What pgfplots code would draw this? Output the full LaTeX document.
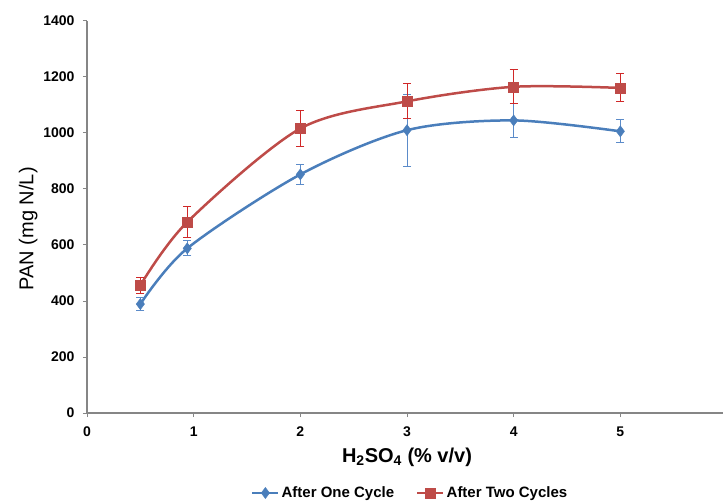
\documentclass[border=0pt]{standalone}
\usepackage{pgfplots}
\usepackage{pgfplotstable}
\pgfplotsset{compat=1.18}
\usepackage{fontspec}
\setmainfont{Liberation Sans}
\definecolor{serA}{HTML}{4A7EBB}
\definecolor{serB}{HTML}{BE4B48}
\definecolor{errA}{HTML}{5B8BC9}
\definecolor{errB}{HTML}{D02828}
\definecolor{axgray}{HTML}{868686}

\pgfplotstableread{
x y e
0.5 389 22
0.94 588 27
2 852 35
3 1010 128
4 1045 62
5 1006 41
}\one
\pgfplotstableread{
x y e
0.5 456 28
0.94 682 57
2 1016 65
3 1113 63
4 1165 61
5 1161 50
}\two

\begin{document}
\begin{tikzpicture}
\clip (-87bp,-89bp) rectangle (636bp,413bp);
\begin{axis}[
  at={(0,0)}, anchor=south west,
  scale only axis, width=640bp, height=392bp,
  xmin=0, xmax=6, ymin=0, ymax=1400,
  axis x line*=bottom, axis y line*=left,
  axis line style={-, draw=axgray, line width=1.5bp},
  xtick={0,1,2,3,4,5,6}, ytick={0,200,400,600,800,1000,1200,1400},
  tick align=outside, major tick length=4bp,
  tick style={axgray, line width=1bp},
  tick label style={font=\fontsize{14bp}{16bp}\selectfont\bfseries},
  xticklabel style={yshift=-6bp},
  yticklabel style={xshift=-5bp},
  /pgf/number format/assume math mode=true,
  /pgf/number format/1000 sep={},
  xlabel={\bfseries H\textsubscript{2}SO\textsubscript{4} (\% v/v)},
  xlabel style={font=\fontsize{20bp}{24bp}\selectfont, at={(axis description cs:0.5,-0.112)}, anchor=center},
  ylabel={PAN (mg N/L)},
  ylabel style={font=\fontsize{20bp}{24bp}\selectfont, at={(axis description cs:-0.092,0.47)}, anchor=center},
  legend columns=2,
  legend style={at={(axis description cs:0.505,-0.204)}, anchor=center, draw=none, fill=none,
    font=\fontsize{15bp}{17bp}\selectfont\bfseries,
    /tikz/every even column/.append style={column sep=20bp}},
  legend image code/.code={\draw[#1, mark repeat=2, mark phase=2] plot coordinates {(0bp,0bp) (13bp,0bp) (26bp,0bp)};},
]
\addplot[serA, line width=2.5bp, smooth, tension=0.5,
  mark=diamond*, mark size=5.5bp, mark options={fill=serA, draw=serA, line width=0.5bp},
  error bars/.cd, y dir=both, y explicit,
  error bar style={errA, line width=1bp},
  error mark options={errA, line width=1bp, mark size=4bp, rotate=90}]
  table[x=x, y=y, y error=e]{\one};
\addlegendentry{After One Cycle}
\addplot[serB, line width=2.5bp, smooth, tension=0.5,
  mark=square*, mark size=5bp, mark options={fill=serB, draw=serB, line width=0.5bp},
  error bars/.cd, y dir=both, y explicit,
  error bar style={errB, line width=1bp},
  error mark options={errB, line width=1bp, mark size=4bp, rotate=90}]
  table[x=x, y=y, y error=e]{\two};
\addlegendentry{After Two Cycles}
\end{axis}
\end{tikzpicture}
\end{document}
